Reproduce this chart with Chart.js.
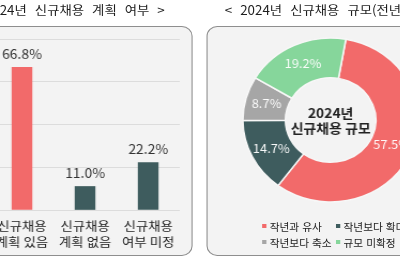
<!DOCTYPE html>
<html lang="ko">
<head>
<meta charset="utf-8">
<script src="https://cdn.jsdelivr.net/npm/chart.js@4.4.1/dist/chart.umd.min.js"></script>
<style>
  html, body { margin: 0; padding: 0; background: #fff; overflow: hidden; }
  body { width: 400px; height: 260px; position: relative; }
  /* source picture is a bit stretched sideways, so the whole stage is too */
  #stage { position: absolute; left: 0; top: 0; width: 374px; height: 260px;
           transform: scaleX(1.07); transform-origin: 0 0;
           font-family: "Noto Sans CJK KR", "Noto Sans", sans-serif; color: #222; }
  .panel { position: absolute; top: 26px; height: 230px; box-sizing: border-box;
           background: #f3f3f3; border: 1px solid #8e8e8e; border-radius: 10px; }
  .title { position: absolute; top: 0; font-size: 12.5px; line-height: 20px; white-space: nowrap;
           word-spacing: 4px; color: #1e1e1e; }
  .box { position: absolute; }
  #legend { position: absolute; left: 0; top: 0; }
  .item { position: absolute; font-size: 10px; line-height: 16px; white-space: nowrap; color: #222; }
  .item i { display: inline-block; width: 4px; height: 4px; margin-right: 3px; vertical-align: 3px; }
</style>
</head>
<body>
<div id="stage">
  <div class="panel" style="left:-40px; width:220px;"></div>
  <div class="panel" style="left:193px; width:200px;"></div>
  <div class="title" style="right:220px;">&lt; 2024년 신규채용 계획 여부 &gt;</div>
  <div class="title" style="left:210px;">&lt; 2024년 신규채용 규모(전년 대비) &gt;</div>
  <div class="box" style="left:-9px; top:27px; width:177px; height:227px;"><canvas id="planChart"></canvas></div>
  <div class="box" style="left:219px; top:30px; width:180px; height:180px;"><canvas id="sizeChart"></canvas></div>
  <div id="legend"></div>
</div>
<script>
const FONT = '"Noto Sans CJK KR", "Noto Sans", sans-serif';

// left: hiring plan
const planLabels = [['신규채용', '계획 있음'], ['신규채용', '계획 없음'], ['신규채용', '여부 미정']];
const planValues = [66.8, 11.0, 22.2];
const planColors = ['#F26A6A', '#3E5C5E', '#3E5C5E'];
const planMax = 80;
const planStep = 20;

// right: hiring size vs last year
const sizeLabels = ['작년과 유사', '작년보다 확대', '작년보다 축소', '규모 미확정'];
const sizeValues = [57.5, 14.7, 8.7, 19.2];
const sizeColors = ['#F26A6A', '#3E5C5E', '#A6A6A6', '#86D69B'];
const centerLines = ['2024년', '신규채용 규모'];

const pct = v => v.toFixed(1) + '%';

// value text above each bar
const barValues = {
    id: 'barValues',
    afterDatasetsDraw(chart) {
        const ctx = chart.ctx;
        const meta = chart.getDatasetMeta(0);
        ctx.save();
        ctx.font = '13px ' + FONT;
        ctx.fillStyle = '#333';
        ctx.textAlign = 'center';
        ctx.textBaseline = 'middle';
        meta.data.forEach((bar, i) => {
            ctx.fillText(pct(planValues[i]), bar.x, bar.y - 13);
        });
        ctx.restore();
    }
};

// percent on each slice + text in the hole
const arcValues = {
    id: 'arcValues',
    afterDatasetsDraw(chart) {
        const ctx = chart.ctx;
        const meta = chart.getDatasetMeta(0);
        ctx.save();
        ctx.textAlign = 'center';
        ctx.textBaseline = 'middle';
        ctx.font = '12px ' + FONT;
        ctx.fillStyle = 'rgba(255,255,255,0.95)';
        meta.data.forEach((arc, i) => {
            const p = arc.getCenterPoint();
            ctx.fillText(pct(sizeValues[i]), p.x, p.y);
        });
        const a = chart.chartArea;
        const cx = (a.left + a.right) / 2;
        const cy = (a.top + a.bottom) / 2;
        ctx.font = '600 13px ' + FONT;
        ctx.fillStyle = '#222';
        ctx.fillText(centerLines[0], cx, cy - 6.5);
        ctx.fillText(centerLines[1], cx, cy + 8);
        ctx.restore();
    }
};

new Chart(document.getElementById('planChart'), {
    type: 'bar',
    data: {
        labels: planLabels,
        datasets: [{
            data: planValues,
            backgroundColor: planColors,
            barThickness: 18.7
        }]
    },
    options: {
        responsive: true,
        maintainAspectRatio: false,
        animation: false,
        layout: { padding: { top: 12, bottom: 4, left: 0, right: 0 } },
        plugins: {
            legend: { display: false },
            tooltip: { enabled: false }
        },
        scales: {
            x: {
                grid: { display: false },
                border: { display: false },
                ticks: {
                    color: '#222',
                    font: { family: FONT, size: 12.5, lineHeight: 1.28 },
                    padding: 0,
                    maxRotation: 0,
                    autoSkip: false
                }
            },
            y: {
                min: 0,
                max: planMax,
                ticks: { display: false, stepSize: planStep },
                grid: { color: '#dcdcdc', drawTicks: false },
                border: { display: false }
            }
        }
    },
    plugins: [barValues]
});

new Chart(document.getElementById('sizeChart'), {
    type: 'doughnut',
    data: {
        labels: sizeLabels,
        datasets: [{
            data: sizeValues,
            backgroundColor: sizeColors,
            borderColor: '#f7f7f7',
            borderWidth: 1.5,
            radius: 82,
            cutout: 46
        }]
    },
    options: {
        responsive: true,
        maintainAspectRatio: false,
        animation: false,
        rotation: 10,
        plugins: {
            legend: { display: false },
            tooltip: { enabled: false }
        }
    },
    plugins: [arcValues]
});

// legend in two columns, like the source
const legend = document.getElementById('legend');
const legendCols = [245, 314];
const legendRows = [219, 235];
sizeLabels.forEach((label, i) => {
    const el = document.createElement('div');
    el.className = 'item';
    el.style.left = legendCols[i % 2] + 'px';
    el.style.top = legendRows[Math.floor(i / 2)] + 'px';
    const sq = document.createElement('i');
    sq.style.background = sizeColors[i];
    el.appendChild(sq);
    el.appendChild(document.createTextNode(label));
    legend.appendChild(el);
});
</script>
</body>
</html>
